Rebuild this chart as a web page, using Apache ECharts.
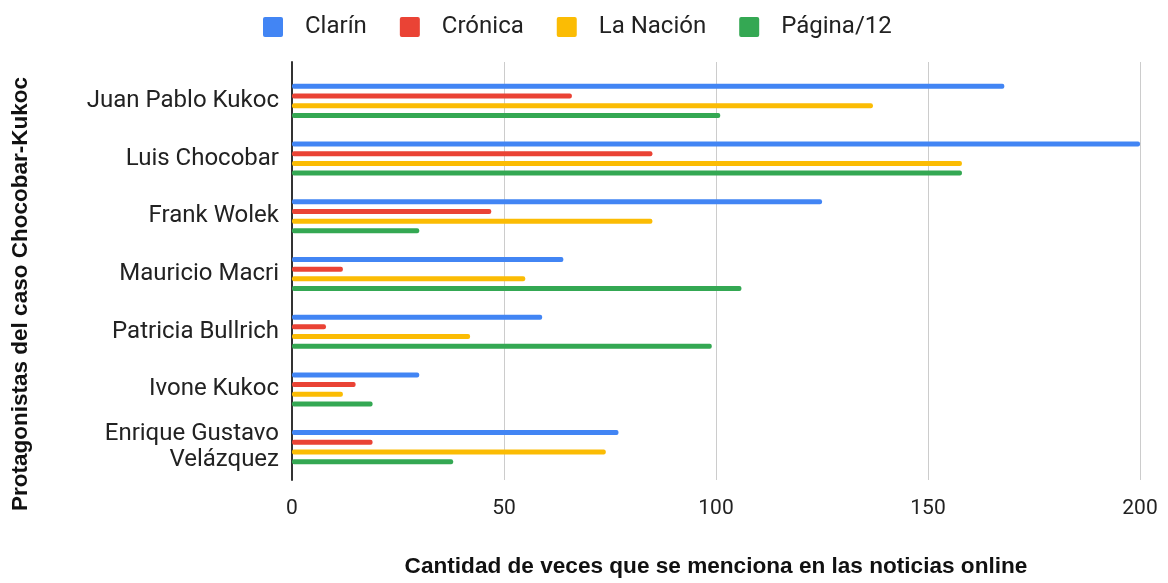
<!DOCTYPE html>
<html>
<head>
<meta charset="utf-8">
<script src="https://cdn.jsdelivr.net/npm/echarts@6/dist/echarts.min.js"></script>
<style>
	html, body { margin: 0; padding: 0; background: #fff; }
	#chart { width: 1168px; height: 583px; }
</style>
</head>
<body>
<div id="chart"></div>
<script type="text/javascript">
	// datos
	var personas = ['Juan Pablo Kukoc', 'Luis Chocobar', 'Frank Wolek', 'Mauricio Macri', 'Patricia Bullrich', 'Ivone Kukoc', 'Enrique Gustavo\nVelázquez'];
	var clarin = [168, 200, 125, 64, 59, 30, 77];
	var cronica = [66, 85, 47, 12, 8, 15, 19];
	var laNacion = [137, 158, 85, 55, 42, 12, 74];
	var pagina12 = [101, 158, 30, 106, 99, 19, 38];
	var ticks = [0, 50, 100, 150, 200];

	var chart = echarts.init(document.getElementById('chart'));
	var font = 'Roboto, Arial, sans-serif';
	var fontTitulo = '"Liberation Sans", Arial, sans-serif';

	function serie(nombre, color, datos) {
		return {
			name: nombre,
			type: 'bar',
			xAxisIndex: 0,
			yAxisIndex: 0,
			data: datos,
			barWidth: 5,
			barGap: '94%',
			itemStyle: { color: color, borderRadius: 2 }
		};
	}

	var option = {
		animation: false,
		color: ['#4285F4', '#EA4335', '#FBBC04', '#34A853'],
		legend: {
			left: 258,
			top: 10,
			// cuadrado con esquinas apenas redondeadas
			icon: 'path://M2,0H18Q20,0 20,2V18Q20,20 18,20H2Q0,20 0,18V2Q0,0 2,0Z',
			itemWidth: 20,
			itemHeight: 20,
			itemGap: 33,
			textStyle: { fontFamily: font, fontSize: 24, color: '#222', padding: [0, 0, 0, 17] },
			data: ['Clarín', 'Crónica', 'La Nación', 'Página/12']
		},
		grid: [
			// barras
			{ left: 292, right: 28, top: 72, bottom: 107 },
			// líneas de la cuadrícula
			{ left: 292, right: 28, top: 62, bottom: 96 }
		],
		xAxis: [
			{ gridIndex: 0, type: 'value', min: 0, max: 200, interval: 50, show: false },
			{
				gridIndex: 1, type: 'value', min: 0, max: 200, interval: 50,
				axisLine: { show: false }, axisTick: { show: false },
				axisLabel: {
					fontFamily: font, fontSize: 21, color: '#222', margin: 18,
					formatter: function(v) { return ticks.indexOf(v) >= 0 ? String(v) : ''; }
				},
				splitLine: { lineStyle: { color: '#ccc', width: 1 } },
				name: 'Cantidad de veces que se menciona en las noticias online',
				nameLocation: 'middle',
				nameGap: 75,
				nameTextStyle: { fontFamily: fontTitulo, fontWeight: 'bold', fontSize: 22.6, color: '#111' }
			}
		],
		yAxis: [
			{
				gridIndex: 0, type: 'category', inverse: true, data: personas,
				axisLine: { show: false }, axisTick: { show: false },
				axisLabel: { fontFamily: font, fontSize: 24, color: '#222', margin: 13, lineHeight: 26, align: 'right' }
			},
			{
				gridIndex: 1, type: 'value', min: 0, max: 1,
				axisLabel: { show: false }, axisTick: { show: false }, splitLine: { show: false },
				axisLine: { show: true, lineStyle: { color: '#333', width: 2 } }
			}
		],
		graphic: [{
			type: 'text',
			x: 21,
			y: 294,
			rotation: Math.PI / 2,
			style: {
				text: 'Protagonistas del caso Chocobar-Kukoc',
				font: 'bold 22.5px "Liberation Sans", Arial, sans-serif',
				fill: '#111',
				align: 'center',
				verticalAlign: 'middle'
			}
		}],
		series: [
			serie('Clarín', '#4285F4', clarin),
			serie('Crónica', '#EA4335', cronica),
			serie('La Nación', '#FBBC04', laNacion),
			serie('Página/12', '#34A853', pagina12)
		]
	};

	chart.setOption(option);
	window.onresize = chart.resize;
</script>
</body>
</html>
